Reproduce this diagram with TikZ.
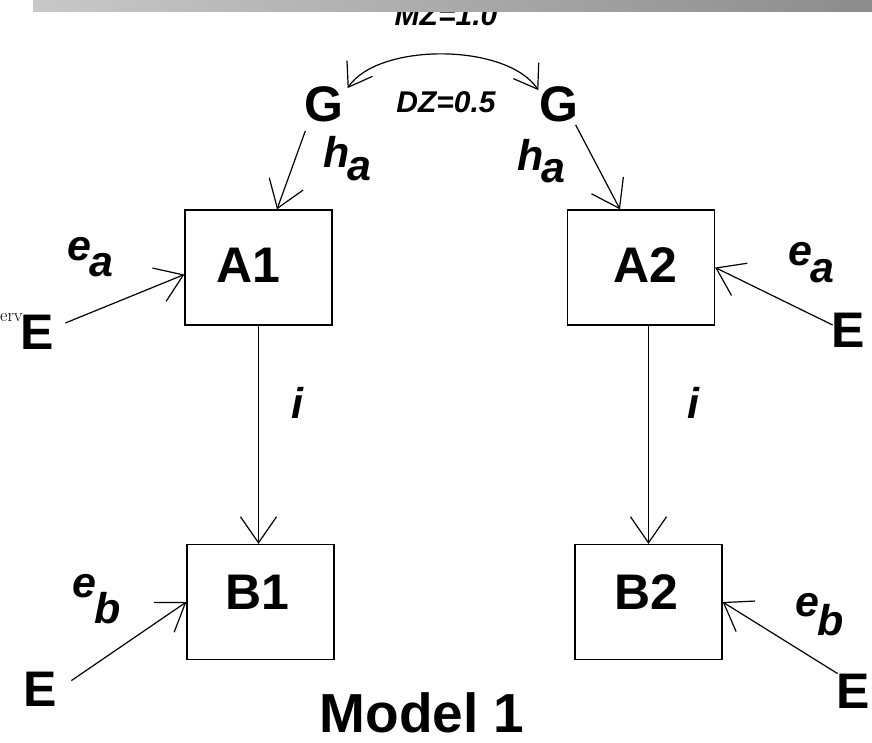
\documentclass[tikz,border=0pt]{standalone}
\usepackage{fontspec}
\newfontfamily\arial{Liberation Sans}
\usetikzlibrary{arrows.meta,bending}
\definecolor{barL}{HTML}{C8C8C8}
\definecolor{barR}{HTML}{8C8C8C}
\newcommand{\sublab}[3]{#1\kern-2pt\raisebox{-#3}{#2}}
\tikzset{
 box/.style={draw, line width=1.3pt, minimum width=147pt, minimum height=115pt, inner sep=0pt},
 boxtext/.style={font=\arial\fontsize{50}{52}\selectfont\bfseries, inner sep=0pt},
 big/.style={font=\arial\fontsize{50}{52}\selectfont\bfseries, inner sep=0pt},
 lab/.style={font=\arial\fontsize{43}{45}\selectfont\bfseries\itshape, inner sep=0pt, anchor=base west},
 corr/.style={font=\arial\fontsize{30}{32}\selectfont\bfseries\itshape, inner sep=0pt, anchor=base},
 title/.style={font=\arial\fontsize{55}{57}\selectfont\bfseries, inner sep=0pt, anchor=base},
 arr/.style={line width=1.2pt, -{Straight Barb[length=26pt,width=36pt]}},
 dbl/.style={line width=1.2pt, {Straight Barb[length=22pt,width=30pt,flex]}-{Straight Barb[length=22pt,width=30pt,flex]}},
}
\begin{document}
\begin{tikzpicture}[x=1pt,y=-1pt]
\useasboundingbox (0,0) rectangle (872,742);

% boxes
\node[box, label={[boxtext,xshift=-10.5pt,yshift=2.5pt]center:A1}] (A1) at (258.5,267.5) {};
\node[box, label={[boxtext,xshift=4pt,yshift=2.5pt]center:A2}] (A2) at (641,267.5) {};
\node[box, label={[boxtext,xshift=-3.5pt,yshift=10pt]center:B1}] (B1) at (260.5,602) {};
\node[box, label={[boxtext,xshift=-2.5pt,yshift=10pt]center:B2}] (B2) at (648.5,602) {};

% latent G
\node[big] (Gl) at (324,104) {G};
\node[big] (Gr) at (559,104) {G};

% error sources E
\node[big] (Eal) at (37,332) {E};
\node[big] (Ear) at (848,330) {E};
\node[big] (Ebl) at (40,689) {E};
\node[big] (Ebr) at (853,691) {E};
\node[anchor=base west, inner sep=0pt, font=\fontsize{18}{19}\selectfont] (erv) at (0,321) {erv};

% correlation labels
\node[corr] (mz) at (446,25) {MZ=1.0};
\node[corr] (dz) at (446,112) {DZ=0.5};

% title bar
\shade[left color=barL, right color=barR] (33,0) rectangle (872,11);

% connectors
\draw[dbl] ([shift={(4,2)}]Gl.north east) .. controls +(28,-46) and +(-30,-48) .. ([shift={(-1,4)}]Gr.north west);
\draw[arr] ([shift={(1,9)}]Gl.south west) -- ([shift={(18.5,0)}]A1.north);
\draw[arr] ([shift={(-3,3)}]Gr.south east) -- ([shift={(-21,0)}]A2.north);
\draw[arr] (A1.south) -- (A1.south |- B1.north);
\draw[arr] (B2.north |- A2.south) -- (B2.north);
\draw[arr] ([shift={(11.5,-9)}]Eal.east) -- ([shift={(0,7)}]A1.west);
\draw[arr] ([shift={(1.5,-5)}]Ear.west) -- (A2.east);
\draw[arr] ([shift={(14.5,9)}]Ebl.north east) -- (B1.west);
\draw[arr] ([shift={(1.5,0)}]Ebr.north west) -- (B2.east);

% path labels
\node[lab] (hal) at (323,167) {\sublab{h}{a}{13pt}};
\node[lab] (har) at (517,170) {\sublab{h}{a}{12pt}};
\node[lab] (eal) at (67,260) {\sublab{e}{a}{16pt}};
\node[lab] (ear) at (788,265) {\sublab{e}{a}{17pt}};
\node[lab] (ebl) at (72,597) {\sublab{e}{b}{26pt}};
\node[lab] (ebr) at (795,616) {\sublab{e}{b}{19pt}};
\node[lab, anchor=base] (il) at (297,418) {i};
\node[lab, anchor=base] (ir) at (693,418) {i};

% caption
\node[title] (model) at (422,732) {Model 1};
\end{tikzpicture}
\end{document}
